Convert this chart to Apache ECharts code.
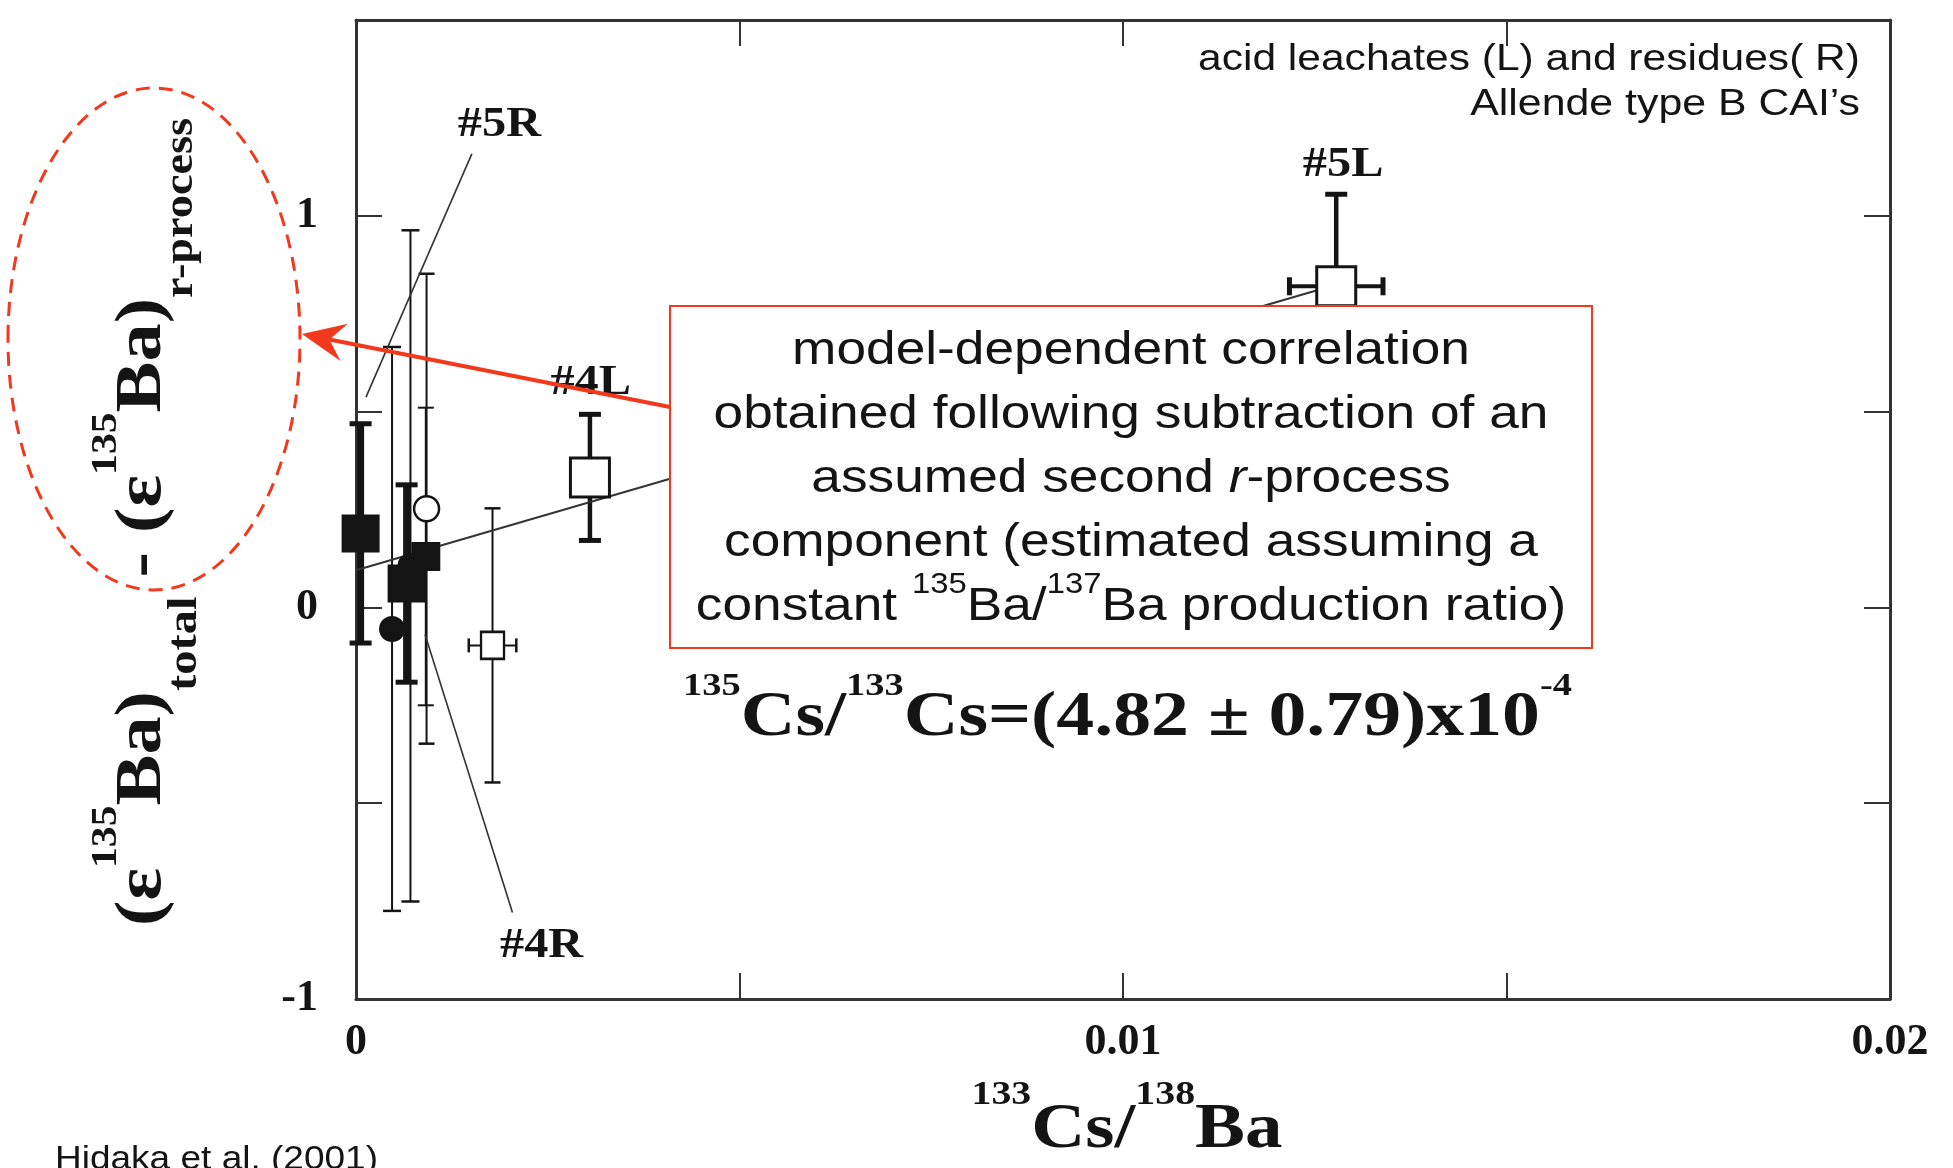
<!DOCTYPE html>
<html>
<head>
<meta charset="utf-8">
<script src="https://cdn.jsdelivr.net/npm/echarts@6/dist/echarts.min.js"></script>
<style>
  html, body { margin: 0; padding: 0; background: #fff; }
  #chart { width: 1953px; height: 1168px; }
</style>
</head>
<body>
<div id="chart"></div>
<script>
// ε135Ba excess versus 133Cs/138Ba for acid leachates and residues of Allende type B CAIs

// labelled ticks
const xTickLabels = [0, 0.01, 0.02];
const yTickLabels = [-1, 0, 1];

// residues: large filled squares
const bigSqX = [0.00006, 0.00066];
const bigSqY = [0.189, 0.061];
const bigSqErr = [0.28, 0.252];

// residue: small filled square
const smallSqX = [0.00091];
const smallSqY = [0.13];
const smallSqErr = [0.38];

// open circle
const openCircX = [0.00092];
const openCircY = [0.252];
const openCircErr = [0.60];

// filled circles
const dotX = [0.00047, 0.00071];
const dotY = [-0.055, 0.106];
const dotErr = [0.72, 0.857];

// small open square with Cs/Ba error
const smallOpenX = [0.00178];
const smallOpenY = [-0.097];
const smallOpenErrY = [0.35];
const smallOpenErrX = [0.00031];

// leachates #4L and #5L
const leachX = [0.00305, 0.01278];
const leachY = [0.332, 0.82];
const leachErrY = [0.161, 0.235];
const leachErrX = [0, 0.00061];

// correlation line end points
const fitX = [0, 0.0128];
const fitY = [0.095, 0.825];

// sample labels (text baseline position)
const sampleNames = ['#5R', '#4R', '#4L', '#5L'];
const sampleLabelX = [0.00187, 0.00242, 0.00306, 0.01287];
const sampleLabelY = [1.196, -0.902, 0.537, 1.094];

// leader lines for #5R and #4R
const leader5R = [[0.00151, 1.158], [0.00013, 0.537]];
const leader4R = [[0.0009, -0.069], [0.00204, -0.779]];

const RED = '#f2381d';
const INK = '#141414';
const SERIF = '"Liberation Serif", "Times New Roman", serif';
const SANS = '"Liberation Sans", Arial, sans-serif';

const chart = echarts.init(document.getElementById('chart'), null, { renderer: 'canvas' });

function isLabelled(list, v) {
  return list.some(t => Math.abs(t - v) < 1e-9);
}

function axisX(position, labels) {
  return {
    type: 'value', position: position, min: 0, max: 0.02, interval: 0.005,
    axisLine: { show: true, onZero: false, lineStyle: { color: '#333', width: 3 } },
    axisTick: { show: true, inside: true, length: 26, lineStyle: { color: '#333', width: 2 } },
    axisLabel: {
      show: labels, margin: 22, color: INK,
      fontFamily: SERIF, fontWeight: 'bold', fontSize: 44,
      formatter: v => isLabelled(xTickLabels, v) ? String(v) : ''
    },
    splitLine: { show: false }
  };
}

function axisY(position, labels) {
  return {
    type: 'value', position: position, min: -1, max: 1.5, interval: 0.5,
    axisLine: { show: true, onZero: false, lineStyle: { color: '#333', width: 3 } },
    axisTick: { show: true, inside: true, length: 26, lineStyle: { color: '#333', width: 2 } },
    axisLabel: {
      show: labels, margin: 38, color: INK,
      fontFamily: SERIF, fontWeight: 'bold', fontSize: 44,
      formatter: v => isLabelled(yTickLabels, v) ? String(v) : ''
    },
    splitLine: { show: false }
  };
}

// vertical (and optional horizontal) error bars with caps
function errorBars(xs, ys, ey, ex, st) {
  return {
    type: 'custom', z: 2, silent: true,
    data: xs.map((x, i) => [x, ys[i], ey[i], ex ? ex[i] : 0]),
    renderItem(params, api) {
      const x = api.value(0), y = api.value(1), e = api.value(2), h = api.value(3);
      const c = api.coord([x, y]);
      const top = api.coord([x, y + e]);
      const bot = api.coord([x, y - e]);
      const kids = [];
      const bar = { stroke: INK, lineWidth: st.lw };
      const cap = { stroke: INK, lineWidth: st.capLw };
      const cw = st.cap / 2;
      kids.push({ type: 'line', shape: { x1: c[0], y1: top[1], x2: c[0], y2: bot[1] }, style: bar });
      kids.push({ type: 'line', shape: { x1: c[0] - cw, y1: top[1], x2: c[0] + cw, y2: top[1] }, style: cap });
      kids.push({ type: 'line', shape: { x1: c[0] - cw, y1: bot[1], x2: c[0] + cw, y2: bot[1] }, style: cap });
      if (h) {
        const l = api.coord([x - h, y]);
        const r = api.coord([x + h, y]);
        const hw = (st.hcap || st.cap) / 2;
        kids.push({ type: 'line', shape: { x1: l[0], y1: c[1], x2: r[0], y2: c[1] }, style: { stroke: INK, lineWidth: st.hlw || st.lw } });
        kids.push({ type: 'line', shape: { x1: l[0], y1: c[1] - hw, x2: l[0], y2: c[1] + hw }, style: cap });
        kids.push({ type: 'line', shape: { x1: r[0], y1: c[1] - hw, x2: r[0], y2: c[1] + hw }, style: cap });
      }
      return { type: 'group', children: kids };
    }
  };
}

function pairs(xs, ys) {
  return xs.map((x, i) => [x, ys[i]]);
}

function markers(xs, ys, symbol, size, filled, borderW) {
  return {
    type: 'scatter', z: 4, silent: true,
    symbol: symbol, symbolSize: size,
    data: pairs(xs, ys),
    itemStyle: filled
      ? { color: INK, opacity: 1 }
      : { color: '#fff', borderColor: INK, borderWidth: borderW, opacity: 1 }
  };
}

function segment(points, width, color) {
  return {
    type: 'line', z: 3, silent: true, symbol: 'none',
    data: points,
    lineStyle: { color: color, width: width }
  };
}

const option = {
  animation: false,
  backgroundColor: '#fff',
  grid: { left: 356, right: 63, top: 20, bottom: 169, containLabel: false },
  xAxis: [axisX('bottom', true), axisX('top', false)],
  yAxis: [axisY('left', true), axisY('right', false)],
  series: [
    segment(pairs(fitX, fitY), 2, '#333'),
    segment(leader5R, 1.6, '#333'),
    segment(leader4R, 1.6, '#333'),
    errorBars(dotX, dotY, dotErr, null, { lw: 2, cap: 18, capLw: 2.5 }),
    errorBars(openCircX, openCircY, openCircErr, null, { lw: 2, cap: 16, capLw: 2.5 }),
    errorBars(smallSqX, smallSqY, smallSqErr, null, { lw: 2, cap: 16, capLw: 2 }),
    errorBars(bigSqX, bigSqY, bigSqErr, null, { lw: 7, cap: 22, capLw: 5 }),
    errorBars(smallOpenX, smallOpenY, smallOpenErrY, smallOpenErrX, { lw: 2, cap: 16, capLw: 2.5, hcap: 14 }),
    errorBars(leachX, leachY, leachErrY, leachErrX, { lw: 4.5, cap: 22, capLw: 5, hcap: 18, hlw: 4 }),
    markers(dotX, dotY, 'circle', 26, true),
    markers(bigSqX, bigSqY, 'rect', 38, true),
    markers(smallSqX, smallSqY, 'rect', 29, true),
    markers(openCircX, openCircY, 'circle', 25, false, 2.5),
    markers(smallOpenX, smallOpenY, 'rect', [23, 27], false, 2.5),
    markers(leachX, leachY, 'rect', 39, false, 3)
  ]
};

chart.setOption(option);

// ---- text runs with super/subscripts, measured on a canvas ----
const mctx = document.createElement('canvas').getContext('2d');
function fontStr(p, family, weight) {
  return (p.style || 'normal') + ' ' + (p.weight || weight || 'normal') + ' ' + p.size + 'px ' + family;
}
function textRun(pieces, opt) {
  const family = opt.family, weight = opt.weight || 'normal';
  const z = opt.z || 20;
  const kids = [];
  let cx = 0;
  pieces.forEach(p => {
    const f = fontStr(p, family, weight);
    mctx.font = f;
    const w = mctx.measureText(p.t).width;
    kids.push({
      type: 'text', x: cx, y: (p.dy || 0) - 0.34 * p.size, silent: true, z: z,
      style: { text: p.t, font: f, fill: opt.color || INK, align: 'left', verticalAlign: 'middle' }
    });
    cx += w;
  });
  const sx = opt.width ? opt.width / cx : (opt.sx || 1);
  const shift = opt.align === 'center' ? -cx / 2 : opt.align === 'right' ? -cx : 0;
  kids.forEach(k => { k.x += shift; });
  return {
    type: 'group', x: opt.x, y: opt.y, rotation: opt.rotation || 0,
    scaleX: sx, scaleY: 1, z: z, silent: true, children: kids
  };
}

function arrowHead(tip, from, len, half, notch) {
  const dx = from[0] - tip[0], dy = from[1] - tip[1];
  const L = Math.hypot(dx, dy);
  const ux = dx / L, uy = dy / L, px = -uy, py = ux;
  const bx = tip[0] + ux * len, by = tip[1] + uy * len;
  return [tip, [bx + px * half, by + py * half],
    [tip[0] + ux * len * (1 - notch), tip[1] + uy * len * (1 - notch)],
    [bx - px * half, by - py * half]];
}

const graphics = [];

// sample labels placed through the axes
sampleNames.forEach((name, i) => {
  const p = chart.convertToPixel({ gridIndex: 0 }, [sampleLabelX[i], sampleLabelY[i]]);
  graphics.push(textRun([{ t: name, size: 42 }], {
    family: SERIF, weight: 'bold', x: p[0], y: p[1], align: 'center', sx: 1.15, z: 8
  }));
});

// y axis title (reads bottom to top)
graphics.push(textRun([
  { t: '(ε', size: 66 },
  { t: '135', size: 36, dy: -46 },
  { t: 'Ba)', size: 66 },
  { t: 'total', size: 42, dy: 34 },
  { t: ' - ', size: 66 },
  { t: '(ε', size: 66 },
  { t: '135', size: 36, dy: -46 },
  { t: 'Ba)', size: 66 },
  { t: 'r-process', size: 40, dy: 30 }
], { family: SERIF, weight: 'bold', x: 165, y: 926, rotation: Math.PI / 2, width: 808 }));

// x axis title
graphics.push(textRun([
  { t: '133', size: 34, dy: -45 },
  { t: 'Cs/', size: 64 },
  { t: '138', size: 34, dy: -45 },
  { t: 'Ba', size: 64 }
], { family: SERIF, weight: 'bold', x: 1127, y: 1152, align: 'center', width: 311 }));

// slope expressed as initial 135Cs/133Cs
graphics.push(textRun([
  { t: '135', size: 32, dy: -42 },
  { t: 'Cs/', size: 63 },
  { t: '133', size: 32, dy: -42 },
  { t: 'Cs=(4.82 ± 0.79)x10', size: 63 },
  { t: '-4', size: 32, dy: -42 }
], { family: SERIF, weight: 'bold', x: 683, y: 740, align: 'left', width: 889 }));

// sample description, top right
graphics.push(textRun([{ t: 'acid leachates (L) and residues( R)', size: 36 }],
  { family: SANS, x: 1860, y: 72, align: 'right', width: 662 }));
graphics.push(textRun([{ t: 'Allende type B CAI’s', size: 36 }],
  { family: SANS, x: 1860, y: 117, align: 'right', sx: 1.19 }));

// reference
graphics.push(textRun([{ t: 'Hidaka et al. (2001)', size: 33 }],
  { family: SANS, x: 55, y: 1171, align: 'left', width: 323 }));

// dashed ellipse round the axis title
graphics.push({
  type: 'ellipse', z: 30, silent: true,
  shape: { cx: 154, cy: 339, rx: 146, ry: 251 },
  style: { fill: 'none', stroke: RED, lineWidth: 3, lineDash: [14, 9] }
});

// explanatory box
const boxX = 670, boxY = 306, boxW = 922, boxH = 342;
graphics.push({
  type: 'rect', z: 30, silent: true,
  shape: { x: boxX, y: boxY, width: boxW, height: boxH },
  style: { fill: '#fff', stroke: RED, lineWidth: 2 }
});
const boxCx = boxX + boxW / 2;
const boxSx = 1.133;
const boxLines = [
  [{ t: 'model-dependent correlation', size: 47 }],
  [{ t: 'obtained following subtraction of an', size: 47 }],
  [{ t: 'assumed second ', size: 47 }, { t: 'r', size: 47, style: 'italic' }, { t: '-process', size: 47 }],
  [{ t: 'component (estimated assuming a', size: 47 }],
  [{ t: 'constant ', size: 47 }, { t: '135', size: 29, dy: -28 }, { t: 'Ba/', size: 47 },
   { t: '137', size: 29, dy: -28 }, { t: 'Ba production ratio)', size: 47 }]
];
boxLines.forEach((line, i) => {
  graphics.push(textRun(line, { family: SANS, x: boxCx, y: 367 + i * 64, align: 'center', sx: boxSx, z: 31 }));
});

// arrow from the box to the axis title
const tip = [302, 334], tail = [670, 407];
const head = arrowHead(tip, tail, 43, 19, 0.35);
graphics.push({
  type: 'line', z: 30, silent: true,
  shape: { x1: tail[0], y1: tail[1], x2: head[2][0], y2: head[2][1] },
  style: { stroke: RED, lineWidth: 4 }
});
graphics.push({
  type: 'polygon', z: 30, silent: true,
  shape: { points: head },
  style: { fill: RED }
});

chart.setOption({ graphic: graphics });
</script>
</body>
</html>
